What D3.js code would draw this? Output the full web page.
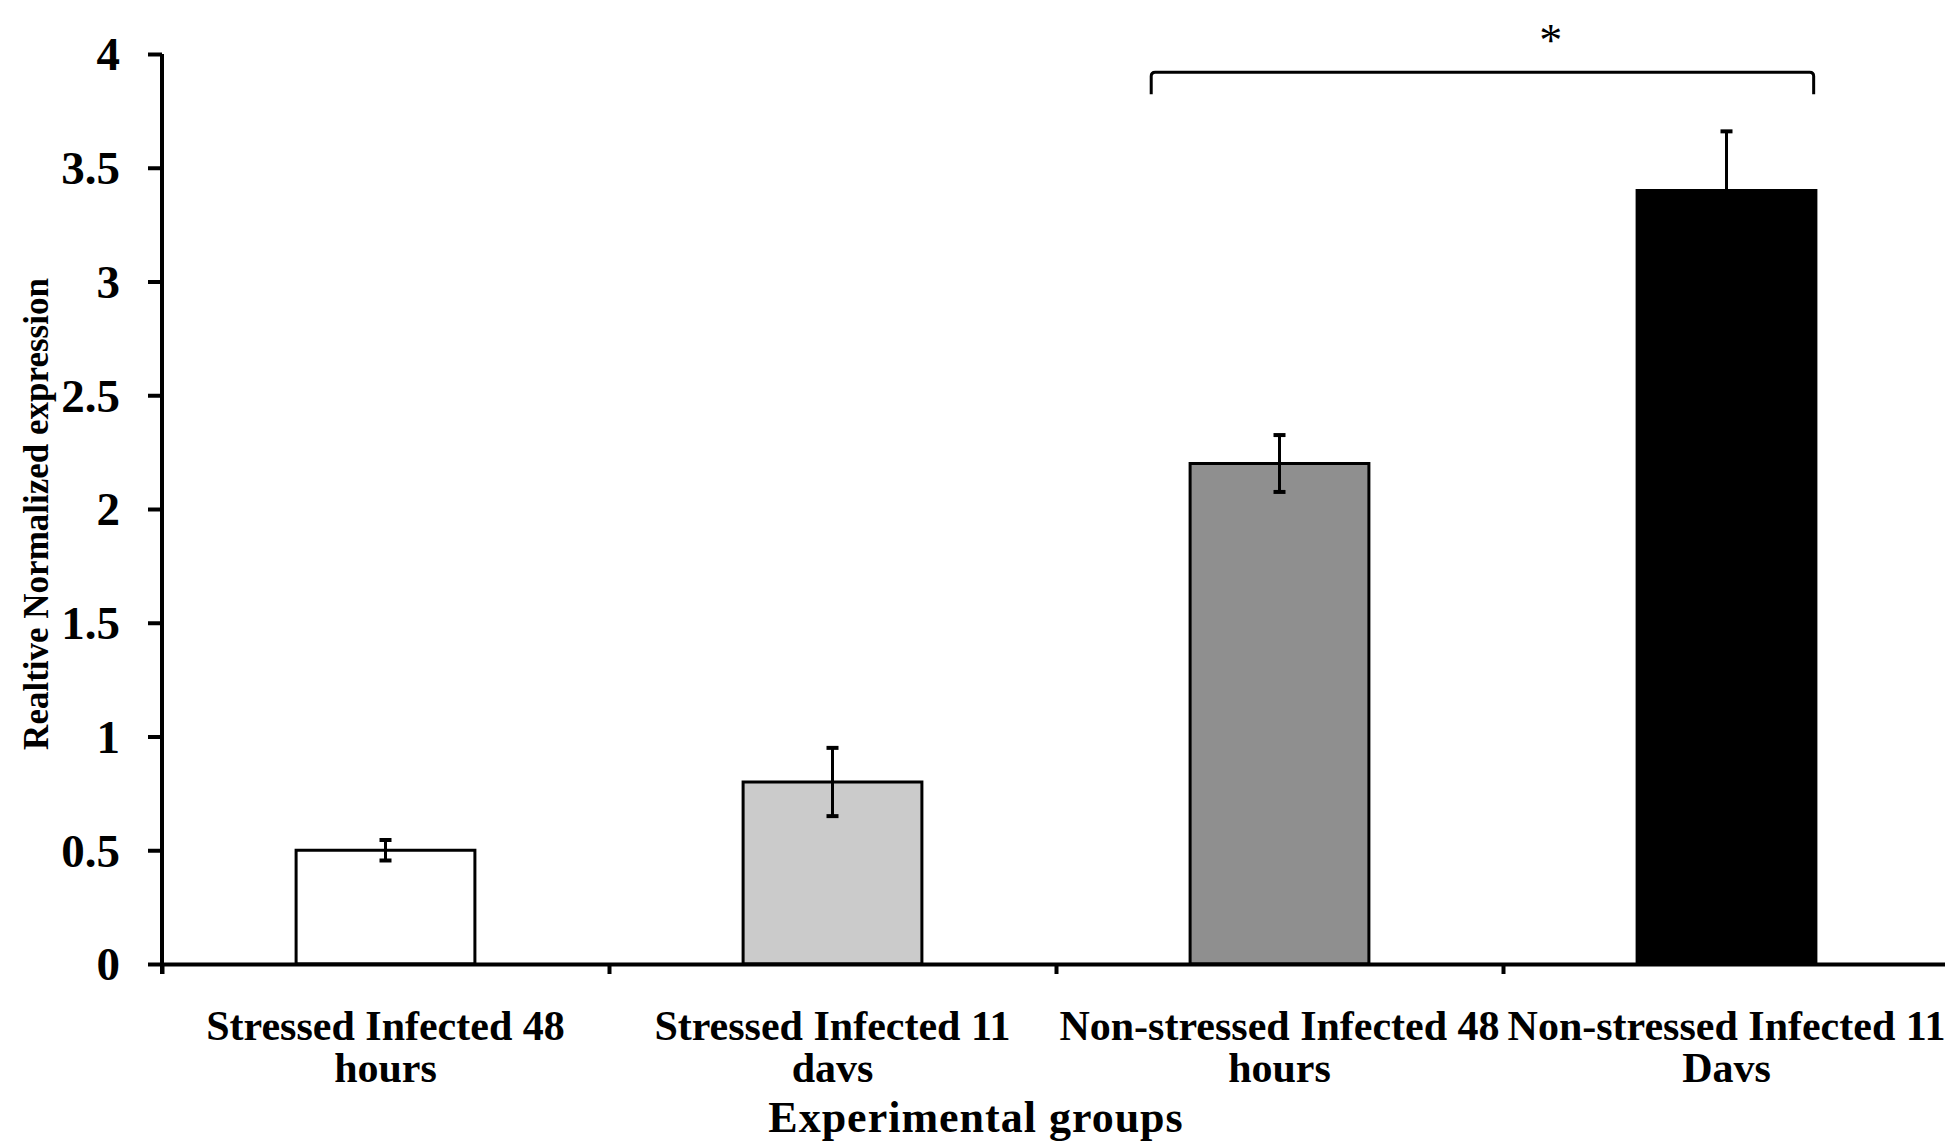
<!DOCTYPE html>
<html>
<head>
<meta charset="utf-8">
<script src="https://cdn.jsdelivr.net/npm/d3@7"></script>
<style>
  body { margin: 0; background: #fff; overflow: hidden; }
  text { font-family: "Liberation Serif", "Times New Roman", serif; font-weight: bold; fill: #000; }
</style>
</head>
<body>
<div id="container"></div>
<script>
/* DATA */
const groups = ["SI48", "SI11", "NI48", "NI11"];
const labelLines = [
  ["Stressed Infected 48", "hours"],
  ["Stressed Infected 11", "davs"],
  ["Non-stressed Infected 48", "hours"],
  ["Non-stressed Infected 11", "Davs"]
];
const values = [0.5, 0.8, 2.2, 3.4];
const errors = [0.045, 0.15, 0.125, 0.26];
const fills = ["#ffffff", "#cbcbcb", "#8f8f8f", "#000000"];
const yTicks = [0, 0.5, 1, 1.5, 2, 2.5, 3, 3.5, 4];
const sigPair = ["NI48", "NI11"];

/* CONSTANTS */
const width = 1945, height = 1142;
const margin = { top: 54, left: 162, bottom: 178 };
const plotRight = 1950;

const svg = d3.select("#container")
  .append("svg")
  .attr("width", width)
  .attr("height", height);

/* SCALES */
const x = d3.scaleBand()
  .domain(groups)
  .range([margin.left, plotRight])
  .padding(0);

const y = d3.scaleLinear()
  .domain([0, 4])
  .range([height - margin.bottom, margin.top]);

const barW = x.bandwidth() * 0.4;
const cx = d => x(d) + x.bandwidth() / 2;

/* BARS */
svg.selectAll("rect.bar")
  .data(groups)
  .join("rect")
  .attr("class", "bar")
  .attr("x", d => cx(d) - barW / 2)
  .attr("y", (d, i) => y(values[i]))
  .attr("width", barW)
  .attr("height", (d, i) => y(0) - y(values[i]))
  .style("fill", (d, i) => fills[i])
  .style("stroke", "#000")
  .style("stroke-width", 3);

/* ERROR BARS */
const eb = svg.selectAll("g.err")
  .data(groups)
  .join("g")
  .attr("class", "err")
  .style("stroke", "#000");

eb.append("line")
  .attr("x1", d => cx(d)).attr("x2", d => cx(d))
  .attr("y1", (d, i) => y(values[i] - errors[i]))
  .attr("y2", (d, i) => y(values[i] + errors[i]))
  .style("stroke-width", 3);

[-1, 1].forEach(s => {
  eb.append("line")
    .attr("x1", d => cx(d) - 6).attr("x2", d => cx(d) + 6)
    .attr("y1", (d, i) => y(values[i] + s * errors[i]))
    .attr("y2", (d, i) => y(values[i] + s * errors[i]))
    .style("stroke-width", 4);
});

/* AXES */
const yAxis = d3.axisLeft(y)
  .tickValues(yTicks)
  .tickFormat(d => String(d))
  .tickSize(14)
  .tickSizeOuter(0)
  .tickPadding(28);

const gy = svg.append("g")
  .attr("transform", `translate(${margin.left},0)`)
  .call(yAxis);
gy.select(".domain").style("stroke-width", 4).attr("d", `M0,${y(4)}V${y(0) + 10}`);
gy.selectAll(".tick line").style("stroke-width", 4);
gy.selectAll(".tick text")
  .attr("font-size", 47)
  .attr("dy", "0.34em")
  .style("font-family", "'Liberation Serif', serif")
  .style("font-weight", "bold");

// x axis: ticks at band boundaries
const bounds = groups.map(g => x(g)).concat([x.range()[1]]);
const xLin = d3.scaleLinear().domain([margin.left, plotRight]).range([margin.left, plotRight]);
const xAxis = d3.axisBottom(xLin)
  .tickValues(bounds)
  .tickFormat("")
  .tickSize(10)
  .tickSizeOuter(0);

const gx = svg.append("g")
  .attr("transform", `translate(0,${y(0)})`)
  .call(xAxis);
gx.select(".domain").style("stroke-width", 4);
gx.selectAll(".tick line").style("stroke-width", 4);

// category labels
const lab = svg.selectAll("text.cat")
  .data(groups)
  .join("text")
  .attr("class", "cat")
  .attr("text-anchor", "middle")
  .attr("font-size", 42)
  .attr("y", y(0) + 76);

lab.selectAll("tspan")
  .data((d, i) => labelLines[i].map(t => ({ t, g: d })))
  .join("tspan")
  .attr("x", d => cx(d.g))
  .attr("dy", (d, j) => j === 0 ? 0 : 42)
  .text(d => d.t);

/* AXIS TITLES */
svg.append("text")
  .attr("x", 976)
  .attr("y", 1132)
  .attr("text-anchor", "middle")
  .attr("font-size", 44)
  .style("letter-spacing", "1px")
  .text("Experimental groups");

svg.append("text")
  .attr("transform", `translate(48,514) rotate(-90)`)
  .attr("text-anchor", "middle")
  .attr("font-size", 35)
  .text("Realtive Normalized expression");

/* SIGNIFICANCE BRACKET */
const bx1 = x(sigPair[0]) + x.bandwidth() * 0.213;
const bx2 = x(sigPair[1]) + x.bandwidth() * 0.695;
const by = y(3.92);
svg.append("path")
  .attr("d", `M${bx1},${by + 22}V${by + 4}Q${bx1},${by} ${bx1 + 4},${by}H${bx2 - 4}Q${bx2},${by} ${bx2},${by + 4}V${by + 22}`)
  .style("fill", "none")
  .style("stroke", "#000")
  .style("stroke-width", 3);

svg.append("text")
  .attr("x", x(sigPair[1]) + x.bandwidth() * 0.107)
  .attr("y", 56)
  .attr("text-anchor", "middle")
  .attr("font-size", 46)
  .style("font-weight", "normal")
  .text("*");
</script>
</body>
</html>
